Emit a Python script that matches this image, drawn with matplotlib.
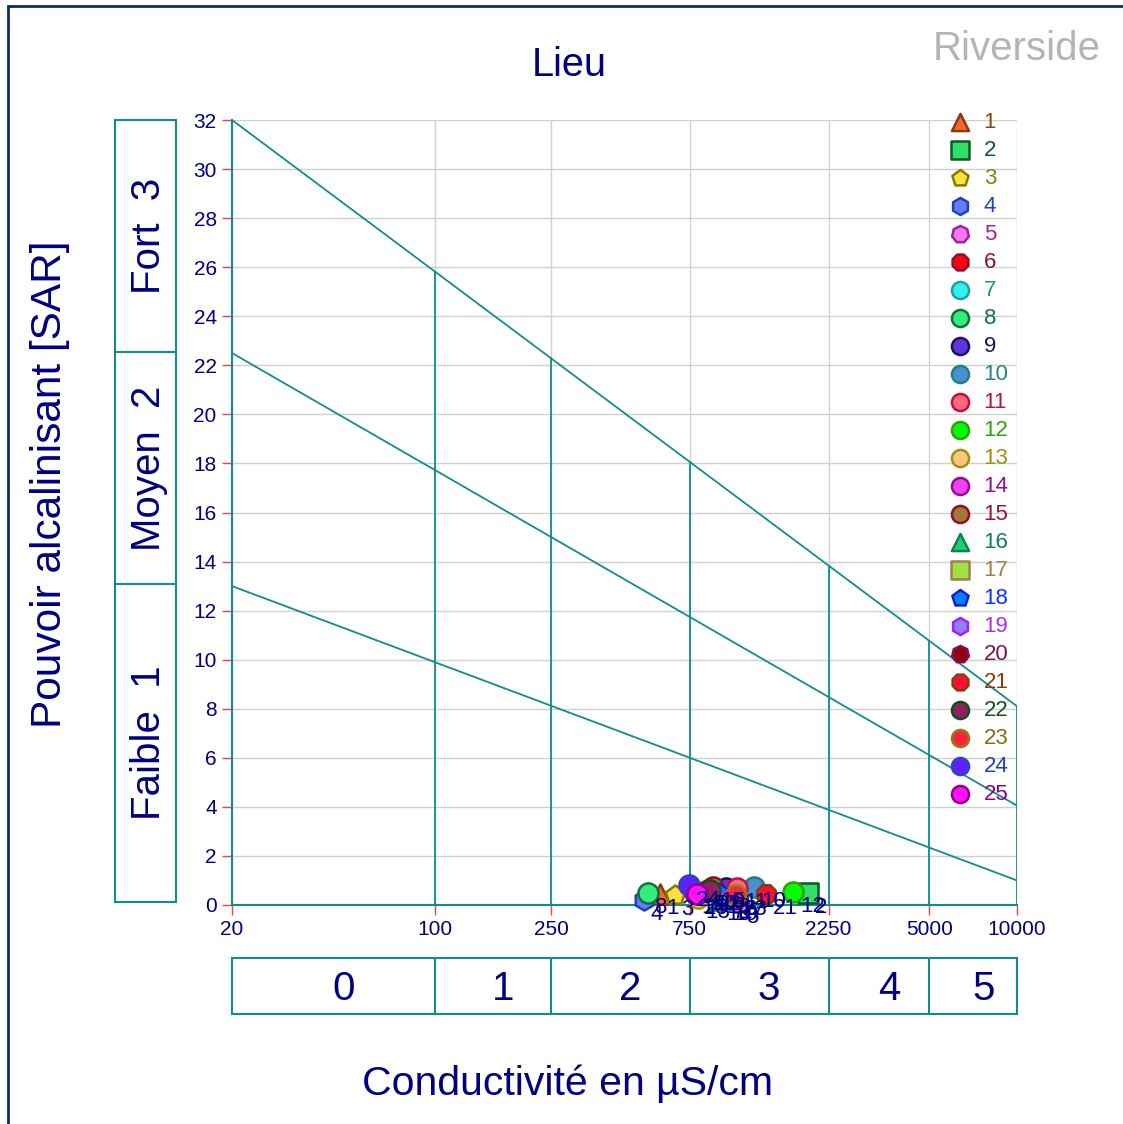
import numpy as np
import matplotlib.pyplot as plt
from matplotlib.patches import Rectangle
from matplotlib.transforms import offset_copy

plt.rcParams['font.family'] = ['Liberation Sans', 'DejaVu Sans']

NAVY = '#000080'
TEAL = '#138c8c'

# samples: conductivity (µS/cm) and SAR
ids = [str(i) for i in range(1, 26)]
ec = [590, 1910, 665, 520, 1110, 1100, 1000, 540, 1000, 1250, 1090, 1700, 800,
      780, 900, 950, 1050, 945, 1000, 850, 1370, 880, 1080, 745, 795]
sar = [0.45, 0.5, 0.4, 0.2, 0.1, 0.4, 0.3, 0.5, 0.7, 0.75, 0.7, 0.55, 0.3,
       0.5, 0.75, 0.2, 0.3, 0.5, 0.2, 0.6, 0.45, 0.6, 0.4, 0.8, 0.45]

hept = (7, 0, 0)
markers = ['^', 's', 'p', 'h', hept, '8', 'o', 'o', 'o', 'o', 'o', 'o', 'o',
           'o', 'o', '^', 's', 'p', 'h', hept, '8', 'o', 'o', 'o', 'o']
fills = ['#f26a2a', '#33dd66', '#ffe040', '#6080ff', '#f578f5', '#ff0010', '#30f0f0',
         '#33ee77', '#6035e0', '#4a8fd0', '#ff6680', '#00ff00', '#f8c880', '#f040f0',
         '#a07840', '#20d070', '#a0e040', '#0080ff', '#9080ff', '#900010', '#ff1030',
         '#902060', '#ff2040', '#6020ff', '#ff10ff']
edges = ['#8b3a0f', '#0b5a2a', '#8b7a00', '#2040c0', '#a020a0', '#8b1030', '#20a0a0',
         '#107040', '#201060', '#208080', '#c01040', '#30a010', '#a09010', '#901090',
         '#901020', '#108050', '#a08050', '#1020d0', '#a020ff', '#801050', '#804010',
         '#105020', '#908010', '#3040c0', '#900090']
label_colors = ['#8b4513', '#0b5a2a', '#8b7d10', '#2040c0', '#a020a0', '#8b1030',
                '#209090', '#107040', '#201060', '#208888', '#c01040', '#30a010',
                '#a09010', '#901090', '#a01030', '#108060', '#a08050', '#1030ff',
                '#a030ff', '#801050', '#804010', '#105020', '#807010', '#2040c0',
                '#900090']

# Riverside classes
ec_limits = [20, 100, 250, 750, 2250, 5000, 10000]
ec_ticklabels = ['20', '100', '250', '750', '2250', '5000', '10000']
ec_classes = ['0', '1', '2', '3', '4', '5']
sar_left = [13, 22.5, 32]      # SAR of the boundary lines at 20 µS/cm
sar_right = [1.0, 4.05, 8.1]   # SAR of the boundary lines at 10000 µS/cm
sar_classes = ['Faible  1', 'Moyen  2', 'Fort  3']

W, H = 1123, 1124
fig = plt.figure(figsize=(W / 100, H / 100), dpi=100)

ax = fig.add_axes([232 / W, 1 - 905 / H, 785 / W, 785 / H])
ax.set_xscale('log')
ax.set_xlim(ec_limits[0], ec_limits[-1])
ax.set_ylim(0, 32)
ax.set_xticks(ec_limits)
ax.set_xticklabels(ec_ticklabels)
ax.minorticks_off()
ax.set_yticks(np.arange(0, 33, 2))
ax.tick_params(color='#ff4040', length=7, width=1, labelcolor=NAVY,
               labelsize=15, pad=4)
ax.grid(color='#d0d0d0', lw=1)
ax.set_axisbelow(True)
for s in ['top', 'right']:
    ax.spines[s].set_visible(False)
for s in ['left', 'bottom']:
    ax.spines[s].set_color(TEAL)
    ax.spines[s].set_linewidth(1.5)

lx = np.log10([ec_limits[0], ec_limits[-1]])
for l, r in zip(sar_left, sar_right):
    ax.plot([ec_limits[0], ec_limits[-1]], [l, r], color=TEAL, lw=1.3)
for x in ec_limits[1:]:
    top = np.interp(np.log10(x), lx, [sar_left[-1], sar_right[-1]])
    ax.plot([x, x], [0, top], color=TEAL, lw=1.3)

for i in range(len(ids)):
    ax.scatter(ec[i], sar[i], s=210, marker=markers[i], facecolor=fills[i],
               edgecolor=edges[i], linewidth=1.8, label=ids[i], zorder=3,
               clip_on=False)
for i in range(len(ids)):
    ax.annotate(ids[i], (ec[i], sar[i]), xytext=(5, -3), textcoords='offset points',
                ha='left', va='top', color=NAVY, fontsize=16, zorder=4)

ax.legend(loc='upper left', bbox_to_anchor=(947 / W, 1 - 112 / H),
          bbox_transform=fig.transFigure, frameon=False, fontsize=16,
          labelspacing=0.315, handletextpad=0.45, handlelength=1.2,
          borderpad=0, borderaxespad=0, markerscale=0.85, labelcolor=label_colors)

# SAR class boxes on the left
axl = fig.add_axes([115 / W, 1 - 902 / H, 61 / W, 782 / H])
axl.set_xlim(0, 1)
axl.set_ylim(0, 32)
axl.set_xticks([])
axl.set_yticks([])
for s in axl.spines.values():
    s.set_color(TEAL)
    s.set_linewidth(1.5)
bounds = [0] + sar_left
for k, lab in enumerate(sar_classes):
    axl.axhline(bounds[k + 1], color=TEAL, lw=1.5)
    axl.text(0.55, (bounds[k] + bounds[k + 1]) / 2, lab, rotation=90, ha='center',
             va='center', fontsize=29, color=NAVY)

# conductivity class boxes at the bottom
axb = fig.add_axes([232 / W, 1 - 1014 / H, 785 / W, 56 / H])
axb.set_xscale('log')
axb.set_xlim(ec_limits[0], ec_limits[-1])
axb.set_ylim(0, 1)
axb.set_xticks([])
axb.set_yticks([])
axb.minorticks_off()
for s in axb.spines.values():
    s.set_color(TEAL)
    s.set_linewidth(1.5)
shift = offset_copy(axb.transData, fig=fig, x=10, y=0, units='dots')
for k, lab in enumerate(ec_classes):
    axb.axvline(ec_limits[k + 1], color=TEAL, lw=1.5)
    xm = np.sqrt(ec_limits[k] * ec_limits[k + 1])
    axb.text(xm, 0.45, lab, transform=shift, ha='center', va='center',
             fontsize=29, color=NAVY)

fig.text(569 / W, 1 - 65 / H, 'Lieu', ha='center', va='center', fontsize=28.5, color=NAVY)
fig.text(1101 / W, 1 - 49 / H, 'Riverside', ha='right', va='center', fontsize=29,
         color='#b4b4b4')
fig.text(568 / W, 1 - 1084 / H, 'Conductivité en µS/cm', ha='center', va='center',
         fontsize=29.5, color=NAVY)
fig.text(50 / W, 1 - 484 / H, 'Pouvoir alcalinisant [SAR]', rotation=90,
         ha='center', va='center', fontsize=30.5, color=NAVY)

fig.patches.append(Rectangle((8 / W, -0.1), 1.2, 1 - 6 / H + 0.1,
                             transform=fig.transFigure, fill=False,
                             edgecolor='#0a2a6a', lw=2))

fig.savefig('out.png', dpi=100)
